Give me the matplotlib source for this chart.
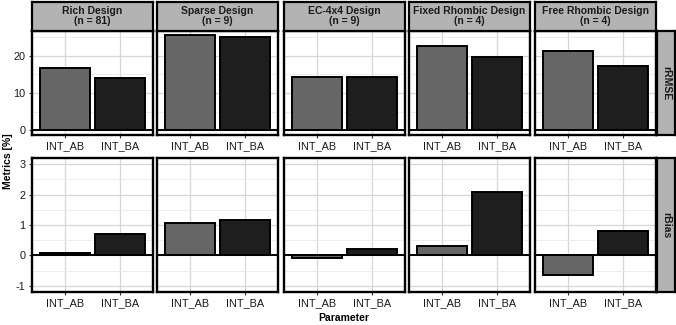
import numpy as np
import matplotlib
matplotlib.use('Agg')
import matplotlib.pyplot as plt

plt.rcParams['font.family'] = ['Liberation Sans', 'DejaVu Sans']

designs = ['Rich Design\n(n = 81)', 'Sparse Design\n(n = 9)', 'EC-4x4 Design\n(n = 9)',
           'Fixed Rhombic Design\n(n = 4)', 'Free Rhombic Design\n(n = 4)']
params = ['INT_AB', 'INT_BA']
metrics = ['rRMSE', 'rBias']

# rRMSE values per design (INT_AB, INT_BA)
rrmse = [[16.7, 14.0], [25.4, 25.0], [14.3, 14.3], [22.5, 19.5], [21.2, 17.1]]
# rBias values per design (INT_AB, INT_BA)
rbias = [[0.08, 0.71], [1.08, 1.17], [-0.07, 0.20], [0.31, 2.08], [-0.63, 0.81]]

bar_cols = ['#666666', '#1e1e1e']
W, H = 676, 325
fig = plt.figure(figsize=(W / 100, H / 100), dpi=100)

def box(x0, y0, x1, y1):
    # pixel box (top-left origin) -> figure fraction rect
    return [x0 / W, 1 - y1 / H, (x1 - x0) / W, (y1 - y0) / H]

xs = [32, 157, 284, 409, 535]
pw = 121
rows = [(31, 135), (158, 292)]
ylims = [(-1.27, 26.6), (-1.2, 3.2)]
majors = [[0, 10, 20], [-1, 0, 1, 2, 3]]
minors = [[5, 15, 25], [-0.5, 0.5, 1.5, 2.5]]
fs = 7.8
fs_strip = 7.5

for r, data in enumerate([rrmse, rbias]):
    y0, y1 = rows[r]
    for c in range(5):
        ax = fig.add_axes(box(xs[c], y0, xs[c] + pw, y1))
        x = np.arange(2)
        ax.bar(x, data[c], width=0.9, color=bar_cols, edgecolor='black', linewidth=1.4, zorder=3)
        ax.axhline(0, color='black', linewidth=1.4, zorder=4)
        ax.set_xlim(-0.6, 1.6)
        ax.set_ylim(*ylims[r])
        ax.set_yticks(majors[r])
        ax.set_yticks(minors[r], minor=True)
        ax.set_xticks(x)
        ax.set_xticklabels(params, fontsize=fs, color='#1a1a1a')
        ax.grid(True, which='major', color='#d6d6d6', linewidth=0.9, zorder=0)
        ax.grid(True, which='minor', axis='y', color='#e6e6e6', linewidth=0.5, zorder=0)
        ax.tick_params(axis='both', which='minor', length=0)
        ax.tick_params(axis='both', which='major', length=2.5, width=0.8, color='#333333', pad=2)
        if c == 0:
            ax.set_yticklabels([str(v) for v in majors[r]], fontsize=fs, color='#1a1a1a')
        else:
            ax.set_yticklabels([])
            ax.tick_params(axis='y', length=0)
        for s in ax.spines.values():
            s.set_linewidth(1.7)
            s.set_color('black')
        ax.set_axisbelow(True)

        if r == 0:
            sa = fig.add_axes(box(xs[c], 2, xs[c] + pw, 31))
            sa.set_xticks([]); sa.set_yticks([])
            sa.set_facecolor('#b3b3b3')
            for s in sa.spines.values():
                s.set_linewidth(1.6)
            sa.text(0.5, 0.5, designs[c], ha='center', va='center', fontsize=fs_strip,
                    fontweight='bold', color='#1a1a1a', linespacing=1.0, transform=sa.transAxes)

    ra = fig.add_axes(box(657, y0, 675, y1))
    ra.set_xticks([]); ra.set_yticks([])
    ra.set_facecolor('#b3b3b3')
    for s in ra.spines.values():
        s.set_linewidth(1.6)
    ra.text(0.5, 0.5, metrics[r], ha='center', va='center', rotation=270, fontsize=fs_strip,
            fontweight='bold', color='#1a1a1a', transform=ra.transAxes)

fig.text(8 / W, 1 - 161 / H, 'Metrics [%]', rotation=90, ha='center', va='center',
         fontsize=fs_strip, fontweight='bold')
fig.text(344 / W, 1 - 318 / H, 'Parameter', ha='center', va='center',
         fontsize=fs_strip, fontweight='bold')

fig.savefig('out.png', dpi=100)
